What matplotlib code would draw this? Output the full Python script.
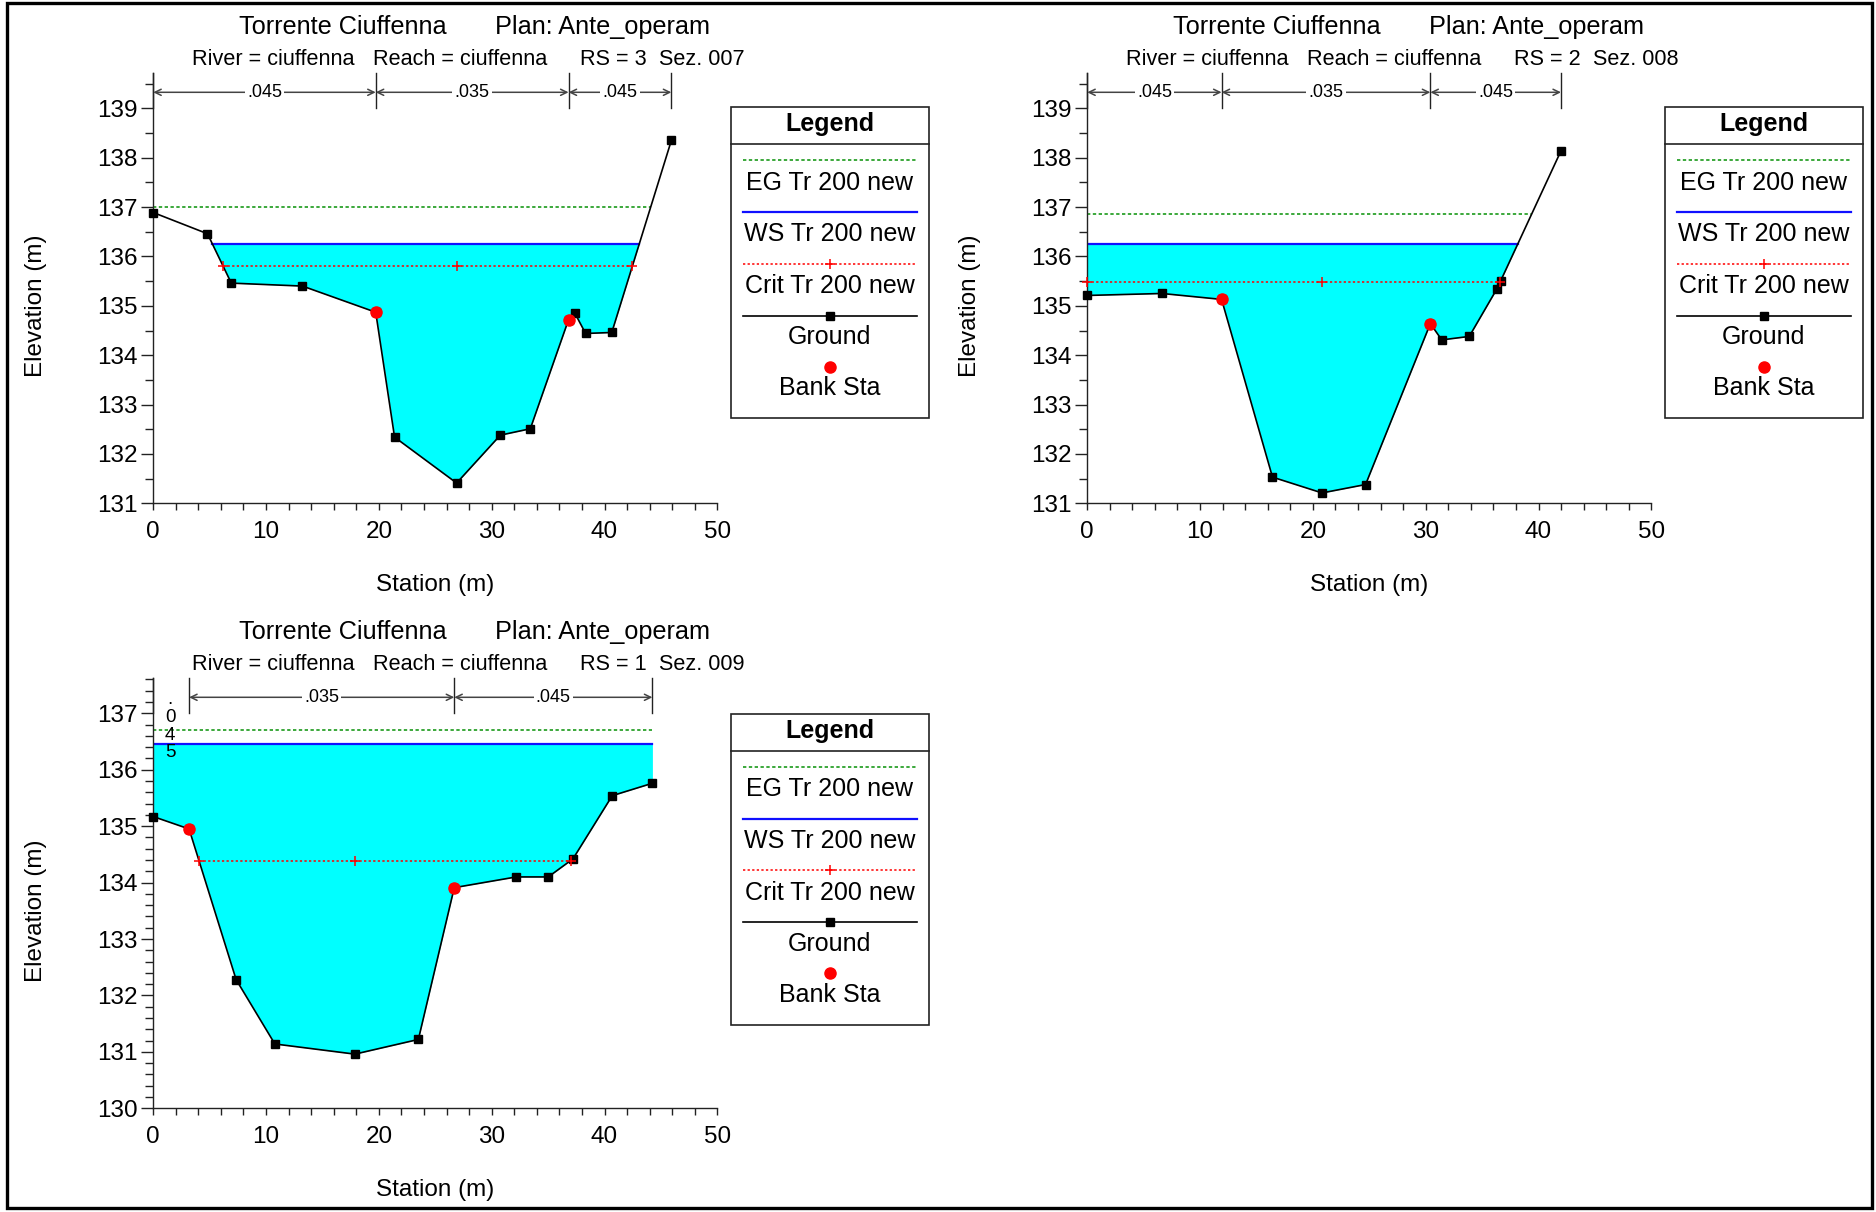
import numpy as np
import matplotlib
matplotlib.use("Agg")
import matplotlib.pyplot as plt
from matplotlib.patches import Rectangle
from matplotlib.ticker import MultipleLocator
from matplotlib.transforms import blended_transform_factory

plt.rcParams['font.family'] = ['Liberation Sans', 'DejaVu Sans']

# sezioni (stazione m, quota m)
st_007 = [0, 4.81, 6.92, 13.23, 19.72, 21.39, 26.89, 30.76, 33.42, 36.81, 37.37, 38.32, 40.64, 45.92]
el_007 = [136.89, 136.46, 135.46, 135.40, 134.87, 132.34, 131.41, 132.38, 132.51, 134.72, 134.85, 134.44, 134.46, 138.35]
bank_007 = [19.72, 36.81]
eg_007, ws_007, crit_007 = 137.01, 136.25, 135.81

st_008 = [0, 6.63, 11.91, 16.42, 20.81, 24.67, 30.41, 31.42, 33.86, 36.30, 36.63, 41.99]
el_008 = [135.21, 135.25, 135.13, 131.53, 131.21, 131.38, 134.64, 134.31, 134.38, 135.34, 135.50, 138.14]
bank_008 = [11.91, 30.41]
eg_008, ws_008, crit_008 = 136.85, 136.25, 135.48

st_009 = [0, 3.18, 7.35, 10.78, 17.87, 23.50, 26.68, 32.17, 35.01, 37.20, 40.68, 44.24]
el_009 = [135.17, 134.95, 132.28, 131.14, 130.96, 131.22, 133.91, 134.10, 134.10, 134.42, 135.54, 135.76]
bank_009 = [3.18, 26.68]
eg_009, ws_009, crit_009 = 136.71, 136.46, 134.39

n_007 = ['.045', '.035', '.045']
n_008 = ['.045', '.035', '.045']
n_009 = ['.045', '.035', '.045']

W, H = 1876, 1212
fig = plt.figure(figsize=(W / 100, H / 100), dpi=100)


def px_rect(left, top, w, h):
    return [left / W, 1 - (top + h) / H, w / W, h / H]


def wet_limits(st, el, level):
    st = np.asarray(st, float)
    el = np.asarray(el, float)
    i0 = int(np.argmin(el))
    left = st[0]
    for i in range(i0, 0, -1):
        if el[i - 1] >= level:
            left = st[i] + (level - el[i]) * (st[i - 1] - st[i]) / (el[i - 1] - el[i])
            break
    right = st[-1]
    for i in range(i0, len(st) - 1):
        if el[i + 1] >= level:
            right = st[i] + (level - el[i]) * (st[i + 1] - st[i]) / (el[i + 1] - el[i])
            break
    return left, right, st[i0]


def sezione(left, top, st, el, bank, eg, ws, crit, nvals, ylo, yhi, ymin_step, rs, sez):
    ax = fig.add_axes(px_rect(left, top, 564.2, 430))
    st = np.asarray(st, float)
    el = np.asarray(el, float)

    ax.fill_between(st, el, ws, where=el < ws, interpolate=True, color='#00ffff', lw=0, zorder=1)
    a, b, _ = wet_limits(st, el, ws)
    ax.plot([a, b], [ws, ws], color='#1010ff', lw=1.6, zorder=2)
    a, b, _ = wet_limits(st, el, eg)
    ax.plot([a, b], [eg, eg], color='#1a9a1a', lw=1.2, ls=(0, (2, 1.5)), zorder=2)
    a, b, thw = wet_limits(st, el, crit)
    ax.plot([a, b], [crit, crit], color='#ff0000', lw=1.1, ls=(0, (1.5, 1.5)), zorder=2)
    ax.plot([a, thw, b], [crit] * 3, ls='none', marker='+', ms=7, mew=1.1, color='#ff0000', zorder=6, clip_on=False)

    ax.plot(st, el, color='black', lw=1.2, zorder=3)
    ax.plot(st, el, ls='none', marker='s', ms=6, color='black', zorder=4, clip_on=False)
    ax.plot(bank, np.interp(bank, st, el), ls='none', marker='o', ms=8, color='#ff0000', zorder=5, clip_on=False)

    ax.set_xlim(0, 50)
    ax.set_ylim(ylo, yhi)
    ax.set_xticks(range(0, 51, 10))
    ax.xaxis.set_minor_locator(MultipleLocator(2))
    ytk = list(range(int(np.ceil(ylo)), int(yhi) + 1))
    ax.set_yticks(ytk)
    ax.yaxis.set_minor_locator(MultipleLocator(ymin_step))
    for s in ['top', 'right']:
        ax.spines[s].set_visible(False)
    for s in ['left', 'bottom']:
        ax.spines[s].set_linewidth(1.0)
        ax.spines[s].set_color('#222222')
    ax.tick_params(axis='y', which='major', length=9, width=1, pad=2, labelsize=17.5, color='#222222')
    ax.tick_params(axis='y', which='minor', length=5.5, width=1, color='#222222')
    ax.tick_params(axis='x', which='both', length=5, width=1, pad=7.5, labelsize=17.5, color='#222222')

    ax.set_ylabel('Elevation (m)', fontsize=17.5)
    ax.set_xlabel('Station (m)', fontsize=17.5)
    ax.yaxis.set_label_coords(-117 / 564.2, ((ytk[0] + ytk[-1]) / 2 - ylo) / (yhi - ylo))
    ax.xaxis.set_label_coords(0.5, -82 / 430)
    ax.xaxis.label.set_va('center')
    ax.yaxis.label.set_va('center')

    # scala di scabrezza sopra la sezione
    trans = blended_transform_factory(ax.transData, ax.transAxes)
    yf = 1 - 19 / 430
    ytop = (ytk[-1] - ylo) / (yhi - ylo)
    bounds = [0, bank[0], bank[1], st[-1]]
    for xb in bounds:
        ax.plot([xb, xb], [ytop, 1], transform=trans, color='#222222', lw=1, clip_on=False)
    for x0, x1, n in zip(bounds[:-1], bounds[1:], nvals):
        if x1 - x0 < 6:
            # tratto troppo stretto: etichetta in verticale
            ax.text((x0 + x1) / 2 - 0.1, yf - 29 / 430, '\n'.join(n), transform=trans, ha='center', va='center',
                    fontsize=13.5, linespacing=1.05)
            continue
        ax.annotate('', xy=(x1, yf), xytext=(x0, yf), xycoords=trans, textcoords=trans,
                    arrowprops=dict(arrowstyle='<->,head_length=0.45,head_width=0.22', color='#444444', lw=1.1,
                                    shrinkA=0, shrinkB=0), annotation_clip=False)
        ax.text((x0 + x1) / 2, yf, n, transform=trans, ha='center', va='center', fontsize=13,
                bbox=dict(facecolor='white', edgecolor='none', pad=1.5))

    # titoli
    fig.text((left + 86) / W, 1 - (top - 39.5) / H, 'Torrente Ciuffenna', fontsize=18.2, va='baseline')
    fig.text((left + 342) / W, 1 - (top - 39.5) / H, 'Plan: Ante_operam', fontsize=18.2, va='baseline')
    yb = 1 - (top - 8.3) / H
    fig.text((left + 39) / W, yb, 'River = ciuffenna', fontsize=15.6, va='baseline')
    fig.text((left + 220) / W, yb, 'Reach = ciuffenna', fontsize=15.6, va='baseline')
    fig.text((left + 427) / W, yb, 'RS = ' + rs, fontsize=15.6, va='baseline')
    fig.text((left + 506) / W, yb, 'Sez. ' + sez, fontsize=15.6, va='baseline')
    return ax


def legenda(left, top):
    w, h = 198.3, 311
    lax = fig.add_axes(px_rect(left, top, w, h))
    lax.set_xlim(0, w)
    lax.set_ylim(h, 0)
    lax.axis('off')
    lax.add_patch(Rectangle((0, 0), w, h, fill=False, ec='#222222', lw=1.2, clip_on=False))
    lax.plot([0, w], [37, 37], color='#222222', lw=1.2, clip_on=False)
    lax.text(w / 2, 17, 'Legend', ha='center', va='center', fontsize=18, fontweight='bold')
    x0, x1, xm = 12, w - 12, w / 2
    fs = 18
    lax.plot([x0, x1], [52.7, 52.7], color='#1a9a1a', lw=1.2, ls=(0, (2, 1.5)))
    lax.text(xm, 75.4, 'EG Tr 200 new', ha='center', va='center', fontsize=fs)
    lax.plot([x0, x1], [104.7, 104.7], color='#1010ff', lw=1.6)
    lax.text(xm, 126.7, 'WS Tr 200 new', ha='center', va='center', fontsize=fs)
    lax.plot([x0, x1], [156.4, 156.4], color='#ff0000', lw=1.1, ls=(0, (1.5, 1.5)))
    lax.plot([xm], [156.4], marker='+', ms=7, mew=1.1, color='#ff0000')
    lax.text(xm, 178.7, 'Crit Tr 200 new', ha='center', va='center', fontsize=fs)
    lax.plot([x0, x1], [208.4, 208.4], color='black', lw=1.2)
    lax.plot([xm], [208.4], marker='s', ms=6, color='black')
    lax.text(xm, 230, 'Ground', ha='center', va='center', fontsize=fs)
    lax.plot([xm], [259.4], marker='o', ms=8, color='#ff0000')
    lax.text(xm, 281, 'Bank Sta', ha='center', va='center', fontsize=fs)


sezione(153.2, 73.3, st_007, el_007, bank_007, eg_007, ws_007, crit_007, n_007, 131, 139.71, 0.5, '3', '007')
legenda(730.7, 107.3)
sezione(1087.2, 73.3, st_008, el_008, bank_008, eg_008, ws_008, crit_008, n_008, 131, 139.71, 0.5, '2', '008')
legenda(1664.7, 107.3)
sezione(153.2, 678.3, st_009, el_009, bank_009, eg_009, ws_009, crit_009, n_009, 130, 137.62, 0.2, '1', '009')
legenda(730.7, 714)

# cornice
fig.patches.append(Rectangle((7 / W, 4 / H), 1865 / W, 1205 / H, transform=fig.transFigure,
                             fill=False, ec='black', lw=2.4))

fig.savefig('out.png', dpi=100)
